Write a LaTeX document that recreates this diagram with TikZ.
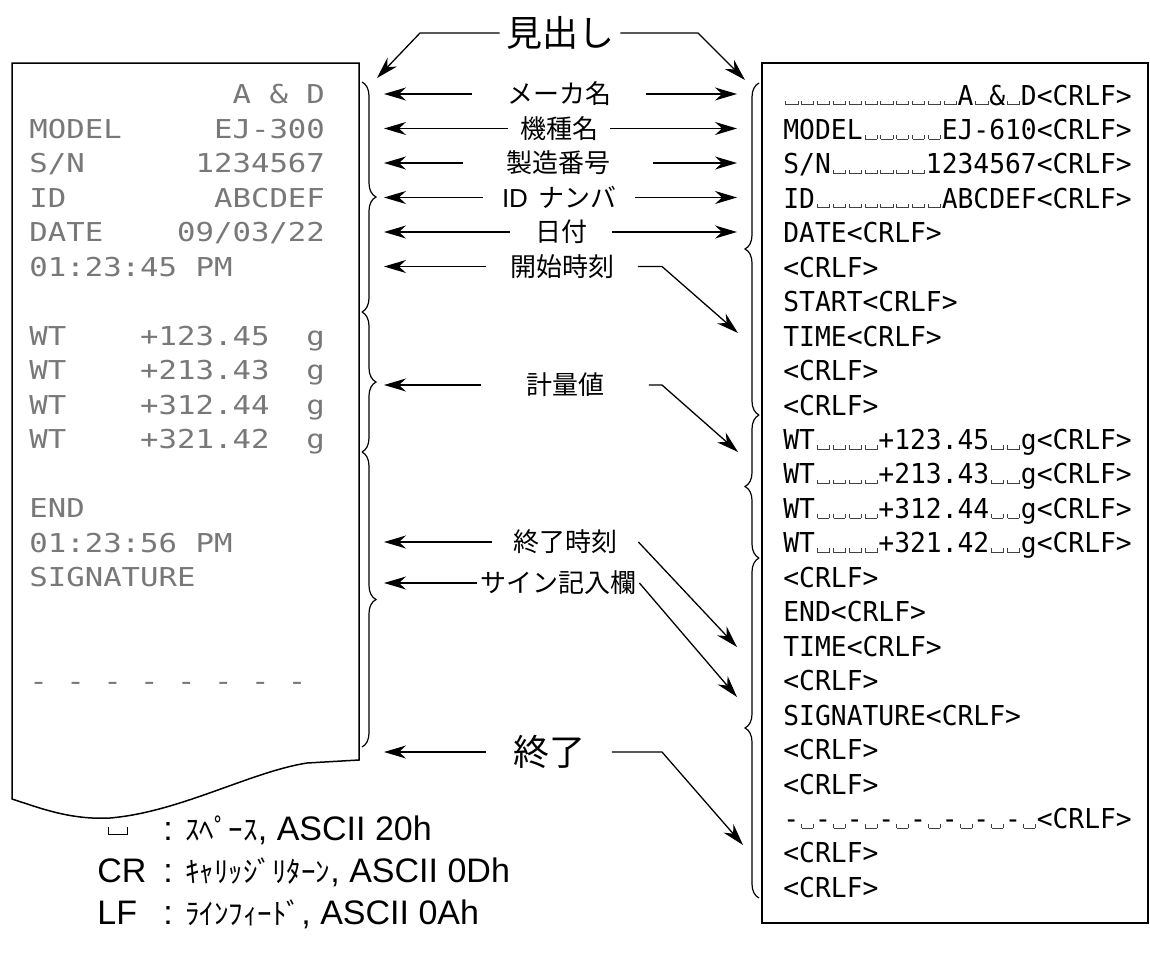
\documentclass[tikz,border=0pt]{standalone}
\usepackage{fontspec}
\setmainfont{Liberation Sans}
\newfontfamily\jpfont{Noto Sans CJK JP}
\newfontfamily\dotfont[FakeStretch=1.18]{DejaVu Sans Mono}
\newfontfamily\listfont[FakeStretch=0.96]{DejaVu Sans Mono}
\usetikzlibrary{arrows.meta, positioning, decorations.pathreplacing}
\definecolor{dotgray}{RGB}{120, 120, 120}

% blank cells and visible spaces
\newcommand\sk[1]{\hspace*{#1\fontcharwd\font`0}}
\newcommand\vs{\makebox[0pt][l]{\hspace*{1pt}\textcolor{black!75}{\rule{.45pt}{2.2pt}\rule{5.6pt}{.45pt}\rule{.45pt}{2.2pt}}}\hphantom{0}}
\newcommand\vsn[1]{\foreach \k in {1,...,#1}{\vs}}
\newcommand\crlf{<CRLF>}

\begin{document}
\begin{tikzpicture}[x=0.5pt, y=-0.5pt,
    paper/.style={draw, line width=0.75pt},
    dotrow/.style={anchor=base west, inner sep=0pt, text=dotgray, font=\dotfont\fontsize{13}{13}\selectfont},
    lstrow/.style={anchor=base west, inner sep=0pt, font=\listfont\fontsize{13.7}{14}\selectfont},
    lbl/.style={inner sep=0pt, minimum height=13pt, font=\jpfont\fontsize{13}{13}\selectfont},
    biglbl/.style={lbl, font=\jpfont\fontsize{18}{18}\selectfont},
    keytxt/.style={anchor=base west, inner sep=0pt, font=\fontsize{17}{17}\selectfont},
    arr/.style={-{Stealth[length=11pt, width=6.5pt, inset=3.5pt]}, line width=0.65pt},
    brc/.style={decorate, decoration={brace, amplitude=7pt}, line width=0.6pt}
  ]
  \useasboundingbox (0,0) rectangle (1150,953);

  % printout
  \draw[paper] (12,63) -- (359,63) -- (359,760) -- (307,763)
    .. controls (250,772) and (180,812) .. (110,818)
    .. controls (70,820) and (40,808) .. (12,799) -- cycle;
  \foreach \j/\txt in {0/{\sk{11}A\sk1\&\sk1D}, 1/{MODEL\sk5EJ-300}, 2/{S/N\sk61234567},
      3/{ID\sk8ABCDEF}, 4/{DATE\sk409/03/22}, 5/{01:23:45\sk1PM},
      7/{WT\sk4+123.45\sk2g}, 8/{WT\sk4+213.43\sk2g}, 9/{WT\sk4+312.44\sk2g},
      10/{WT\sk4+321.42\sk2g}, 12/{END}, 13/{01:23:56\sk1PM}, 14/{SIGNATURE},
      17/{-\sk1-\sk1-\sk1-\sk1-\sk1-\sk1-\sk1-}}
    \node[dotrow] (p\j) at (29, {103.5+34.5*\j}) {\txt};

  % data listing
  \draw[line width=1pt] (762,63) rectangle (1148,923);
  \foreach \txt [count=\i from 0] in {{\vsn{11}A\vs\&\vs D\crlf}, {MODEL\vsn{5}EJ-610\crlf},
      {S/N\vsn{6}1234567\crlf}, {ID\vsn{8}ABCDEF\crlf}, {DATE\crlf}, {\crlf}, {START\crlf},
      {TIME\crlf}, {\crlf}, {\crlf}, {WT\vsn{4}+123.45\vsn{2}g\crlf}, {WT\vsn{4}+213.43\vsn{2}g\crlf},
      {WT\vsn{4}+312.44\vsn{2}g\crlf}, {WT\vsn{4}+321.42\vsn{2}g\crlf}, {\crlf}, {END\crlf},
      {TIME\crlf}, {\crlf}, {SIGNATURE\crlf}, {\crlf}, {\crlf},
      {-\vs-\vs-\vs-\vs-\vs-\vs-\vs-\vs\crlf}, {\crlf}, {\crlf}}
    \node[lstrow] (r\i) at (783, {105+34.45*\i}) {\txt};

  % braces
  \draw[brc] (362,82) -- (362,312);
  \draw[brc] (362,312) -- (362,452);
  \draw[brc] (362,452) -- (362,747);
  \draw[brc] (759,415) -- (759,83);
  \draw[brc] (759,558) -- (759,415);
  \draw[brc] (759,898) -- (759,558);

  % labels
  \node[biglbl, minimum width=60pt] (head) at (560,33) {見出し};
  \node[lbl, minimum width=87pt] (maker) at (559,94) {メーカ名};
  \node[lbl, minimum width=51pt] (model) at (559,128.5) {機種名};
  \node[lbl, minimum width=95pt] (serial) at (558,163) {製造番号};
  \node[lbl, minimum width=76pt] (idnum) at (559,197.5) {{\rmfamily ID}\hspace{5pt}ナンバ};
  \node[lbl, minimum width=51pt] (date) at (561,232) {日付};
  \node[lbl, minimum width=75.5pt] (start) at (562,266.5) {開始時刻};
  \node[lbl, minimum width=83.5pt] (weigh) at (565,385) {計量値};
  \node[lbl, minimum width=73pt] (endtime) at (565,542) {終了時刻};
  \node[lbl, minimum width=81pt] (sign) at (558,583) {サイン記入欄};
  \node[biglbl, minimum width=62.5pt] (fin) at (549,752) {終了};

  \coordinate (lt) at (384,0);
  \coordinate (rt) at (737,0);
  \coordinate (rb) at (662,0);
  \coordinate (hl) at (420,33);
  \coordinate (hlt) at (377,78);
  \coordinate (hr) at (698,33);
  \coordinate (hrt) at (745,80);
  \coordinate (tstart) at (738,333);
  \coordinate (tweigh) at (738,452);
  \coordinate (tendtime) at (737,647);
  \coordinate (tsign) at (737,697);
  \coordinate (tfin) at (743,845);

  \draw[arr] (head.west) -- (hl) -- (hlt);
  \draw[arr] (head.east) -- (hr) -- (hrt);
  \foreach \n in {maker, model, serial, idnum, date} {
    \draw[arr] (\n.west) -- (\n.west -| lt);
    \draw[arr] (\n.east) -- (\n.east -| rt);
  }
  \foreach \n in {start, weigh, endtime, sign, fin}
    \draw[arr] (\n.west) -- (\n.west -| lt);
  \draw[arr] (start.east) -- (start.east -| rb) -- (tstart);
  \draw[arr] (weigh.east) -- (weigh.east -| rb) -- (tweigh);
  \draw[arr] (endtime.east) -- (tendtime);
  \draw[arr] (sign.east) -- (tsign);
  \draw[arr] (fin.east) -- (fin.east -| rb) -- (tfin);

  % legend
  \node[anchor=base west, inner sep=0pt] (spkey) at (108,835) {\rule{.5pt}{4pt}\rule{9pt}{.5pt}\rule{.5pt}{4pt}};
  \node[keytxt] (spdesc) at (163,840) {: {\jpfont\fontsize{14.5}{14.5}\selectfont ｽﾍﾟｰｽ}, ASCII 20h};
  \node[keytxt] (crkey) at (97,882) {CR};
  \node[keytxt] (crdesc) at (163,882) {: {\jpfont\fontsize{14.5}{14.5}\selectfont ｷｬﾘｯｼﾞﾘﾀｰﾝ}, ASCII 0Dh};
  \node[keytxt] (lfkey) at (97,924) {LF};
  \node[keytxt] (lfdesc) at (163,924) {: {\jpfont\fontsize{14.5}{14.5}\selectfont ﾗｲﾝﾌｨｰﾄﾞ}, ASCII 0Ah};
\end{tikzpicture}
\end{document}
